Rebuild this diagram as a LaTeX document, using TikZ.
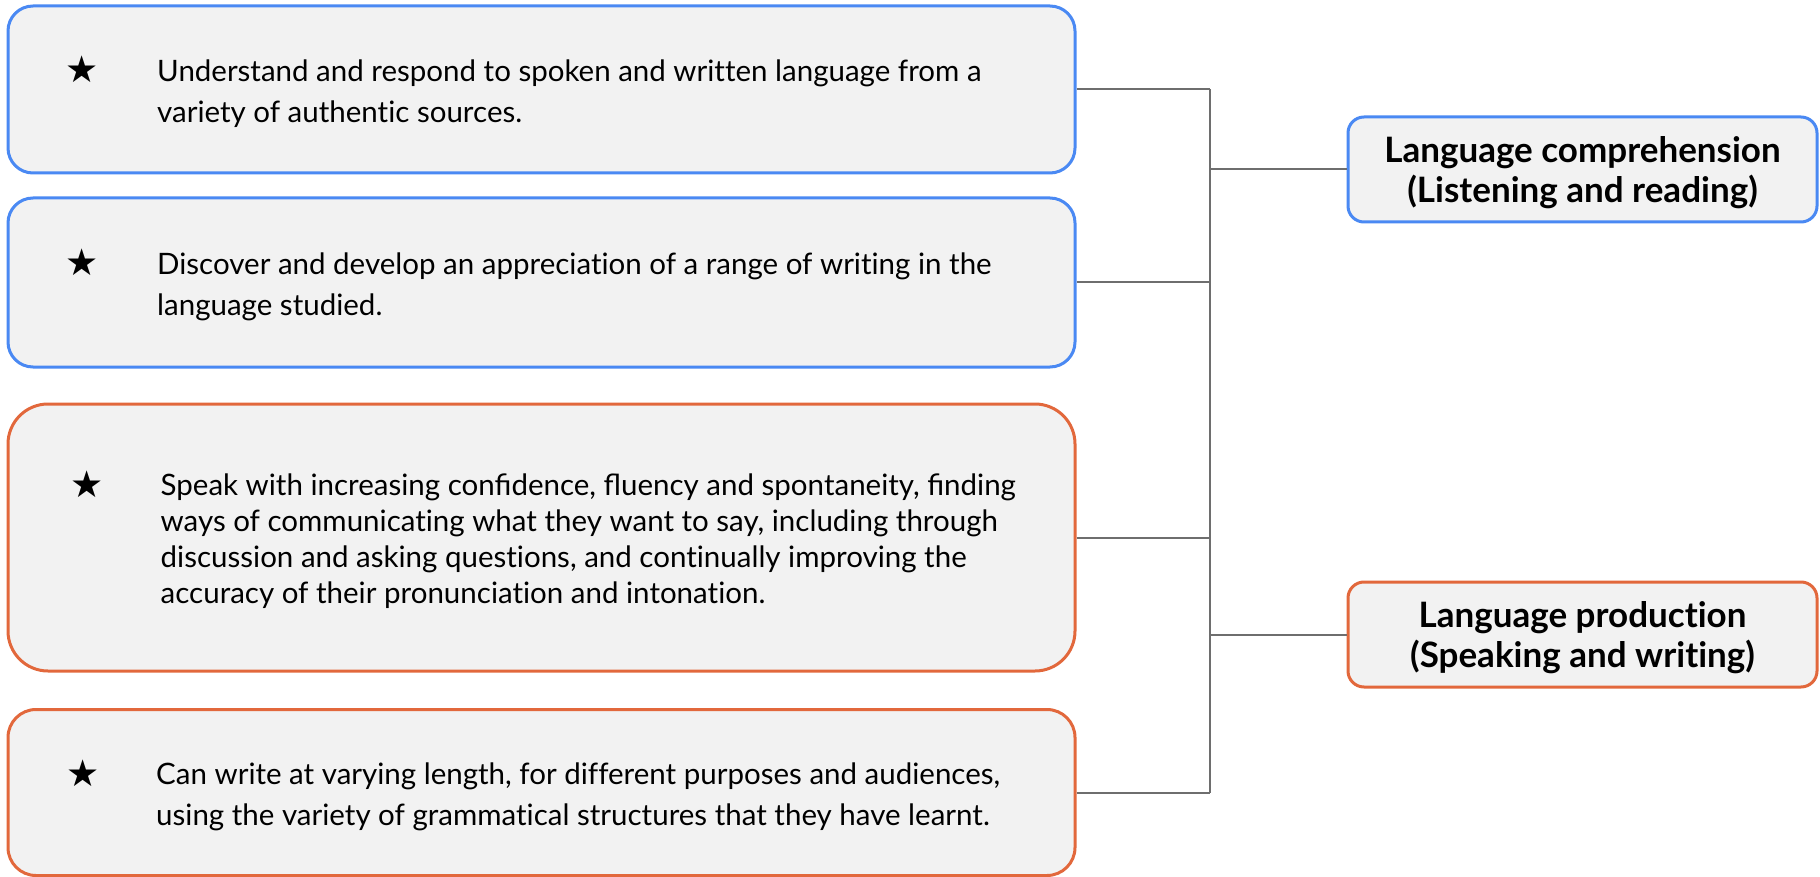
\documentclass[tikz,border=0pt]{standalone}
\usepackage{fontspec}
% plain letter pairs; the fi and fl ligatures are written out as characters
\setmainfont{Lato}[Ligatures=NoCommon]
\newfontfamily\symfont{DejaVu Sans}
\definecolor{boxfill}{HTML}{F2F2F2}
\definecolor{blueedge}{HTML}{4A89F3}
\definecolor{orangeedge}{HTML}{E2683C}
\definecolor{linkgray}{HTML}{6E6E6E}
\tikzset{
  itembox/.style={draw, line width=3pt, fill=boxfill, inner sep=0pt,
    minimum width=1067pt},
  bluebox/.style={itembox, draw=blueedge},
  orangebox/.style={itembox, draw=orangeedge},
  headbox/.style={draw, line width=3pt, fill=boxfill, inner sep=0pt,
    minimum width=469pt, minimum height=105pt, rounded corners=16pt},
  headtext/.style={align=center, inner sep=0pt,
    font=\bfseries\fontsize{35}{40}\selectfont},
  itemtext/.style={anchor=west, align=left, inner sep=0pt,
    font=\fontsize{29.5}{41}\selectfont},
  bullet/.style={inner sep=0pt, font=\symfont\fontsize{37}{37}\selectfont},
  link/.style={draw=linkgray, line width=2pt},
}
\begin{document}
\begin{tikzpicture}[x=1pt,y=-1pt]
\useasboundingbox (0,0) rectangle (1820,877);

% objective boxes on the left
\node[bluebox, minimum height=167pt, rounded corners=25pt] (b1) at (541.5,89.5) {};
\node[bluebox, minimum height=169pt, rounded corners=25pt] (b2) at (541.5,282.5) {};
\node[orangebox, minimum height=267pt, rounded corners=40pt] (b3) at (541.5,537.5) {};
\node[orangebox, minimum height=166pt, rounded corners=28pt] (b4) at (541.5,792.5) {};

\node[bullet] (s1) at (82.5,69.5) {★};
\node[bullet] (s2) at (82.5,262) {★};
\node[bullet] (s3) at (87.5,484) {★};
\node[bullet] (s4) at (83,773) {★};

\node[itemtext] (t1) at (157,93.5) {Understand and respond to spoken and written language from a\\variety of authentic sources.};
\node[itemtext] (t2) at (157,286.5) {Discover and develop an appreciation of a range of writing in the\\language studied.};
\node[itemtext, font=\fontsize{29.5}{36}\selectfont] (t3) at (160.5,541) {Speak with increasing conﬁdence, ﬂuency and spontaneity, ﬁnding\\ways of communicating what they want to say, including through\\discussion and asking questions, and continually improving the\\accuracy of their pronunciation and intonation.};
\node[itemtext] (t4) at (156,797) {Can write at varying length, for different purposes and audiences,\\using the variety of grammatical structures that they have learnt.};

% skill headings on the right
\node[headbox, draw=blueedge] (r1) at (1582.5,169.5) {};
\node[headtext] (h1) at ([yshift=-3pt]r1.center) {Language comprehension\\(Listening and reading)};
\node[headbox, draw=orangeedge] (r2) at (1582.5,634.5) {};
\node[headtext] (h2) at ([yshift=-3pt]r2.center) {Language production\\(Speaking and writing)};

% bracket joining the boxes to the headings
\coordinate (tk) at (1210,0);
\draw[link] (b1.east) -- (b1.east -| tk);
\draw[link] (b2.east) -- (b2.east -| tk);
\draw[link] (b3.east) -- (b3.east -| tk);
\draw[link] (b4.east) -- (b4.east -| tk);
\draw[link] (b1.east -| tk) -- (b4.east -| tk);
\draw[link] (r1.west -| tk) -- (r1.west);
\draw[link] (r2.west -| tk) -- (r2.west);
\end{tikzpicture}
\end{document}
